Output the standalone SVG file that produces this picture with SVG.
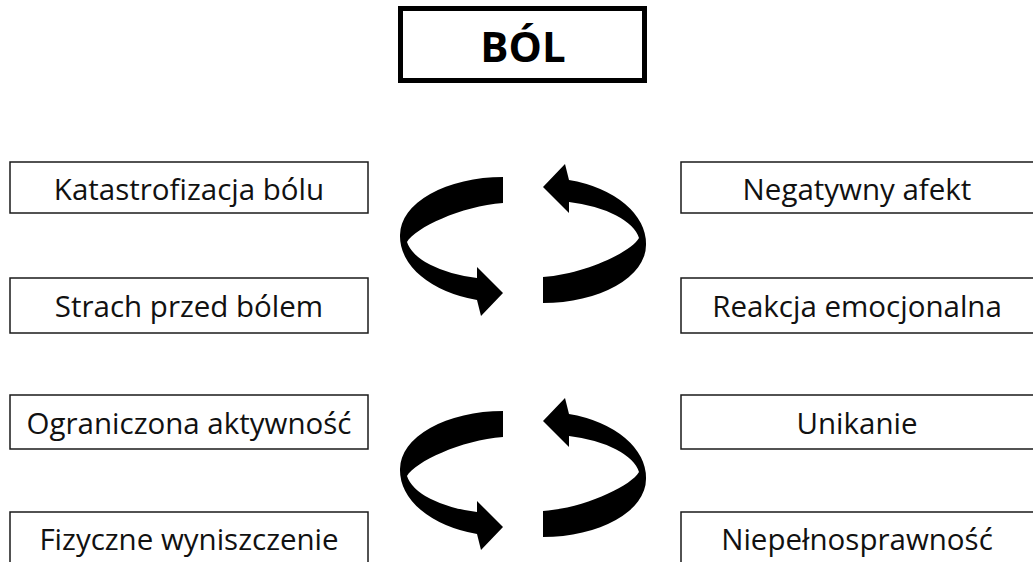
<svg xmlns="http://www.w3.org/2000/svg" width="1033" height="562" viewBox="0 0 1033 562">
<style>
.box{fill:#fff;stroke:#1a1a1a;stroke-width:1.5}
.lbl{font-family:"Open Sans","Liberation Sans",sans-serif;font-size:29.5px;fill:#111;text-anchor:middle}
.title{font-family:"Open Sans","Liberation Sans",sans-serif;font-size:42px;font-weight:bold;fill:#000;text-anchor:middle}
.arr{fill:#000;stroke:none}
</style>
<defs>
<path id="halfcycle" d="M -20 -63 A 103 58 0 0 0 -123 -5 A 103 66 0 0 0 -46 60 L -42 76 L -20 53 L -46 27 L -46 38 A 96 44 0 0 1 -116 2 C -108 -12 -62 -34 -20 -37 Z"/>
</defs>
<rect width="1033" height="562" fill="#fff"/>
<g id="bol">
<rect x="400.5" y="8.5" width="244" height="72" fill="#fff" stroke="#000" stroke-width="5"/>
<text class="title" x="523" y="62">BÓL</text>
</g>
<g id="katastrofizacja">
<rect class="box" x="10" y="162" width="358" height="51"/>
<text class="lbl" x="189" y="199.5">Katastrofizacja bólu</text>
</g>
<g id="strach">
<rect class="box" x="10" y="278" width="358" height="55"/>
<text class="lbl" x="189" y="316.5">Strach przed bólem</text>
</g>
<g id="ograniczona">
<rect class="box" x="10" y="395" width="358" height="54"/>
<text class="lbl" x="189" y="433.5">Ograniczona aktywność</text>
</g>
<g id="fizyczne">
<rect class="box" x="10" y="512" width="358" height="60"/>
<text class="lbl" x="189" y="550">Fizyczne wyniszczenie</text>
</g>
<g id="negatywny">
<rect class="box" x="681" y="162" width="360" height="51"/>
<text class="lbl" x="857" y="199.5">Negatywny afekt</text>
</g>
<g id="reakcja">
<rect class="box" x="681" y="278" width="360" height="55"/>
<text class="lbl" x="857" y="316.5">Reakcja emocjonalna</text>
</g>
<g id="unikanie">
<rect class="box" x="681" y="395" width="360" height="54"/>
<text class="lbl" x="857" y="433.5">Unikanie</text>
</g>
<g id="niepelnosprawnosc">
<rect class="box" x="681" y="512" width="360" height="60"/>
<text class="lbl" x="857" y="550">Niepełnosprawność</text>
</g>
<g id="connectors">
<use href="#halfcycle" class="arr" transform="translate(523 240)"/>
<use href="#halfcycle" class="arr" transform="translate(523 240) rotate(180)"/>
<use href="#halfcycle" class="arr" transform="translate(523 474)"/>
<use href="#halfcycle" class="arr" transform="translate(523 474) rotate(180)"/>
</g>
</svg>
